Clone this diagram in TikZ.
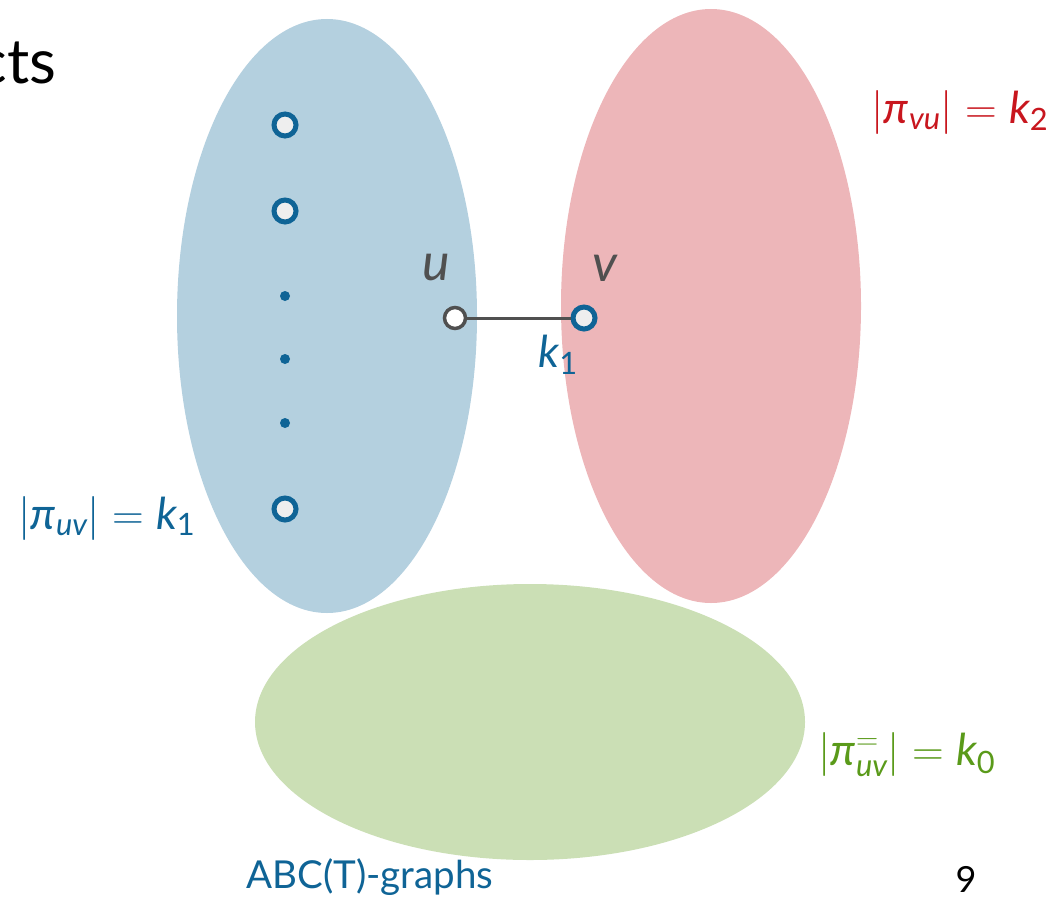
\RequirePackage{fix-cm}
\documentclass[tikz,border=0pt]{standalone}
\usepackage{amsmath}
\usepackage{fontspec}
\setmainfont{Lato}
\usetikzlibrary{positioning}
\definecolor{setblue}{HTML}{B4D0DF}
\definecolor{setred}{HTML}{EDB6B9}
\definecolor{setgreen}{HTML}{CBDFB5}
\definecolor{vblue}{HTML}{0F6496}
\definecolor{vred}{HTML}{C8161E}
\definecolor{vgreen}{HTML}{5A9A1A}
\definecolor{egrey}{HTML}{505050}
\definecolor{vfill}{HTML}{EEEEEE}
\tikzset{
  blue vertex/.style={circle, draw=vblue, line width=5pt, fill=vfill, minimum size=22pt, inner sep=0pt},
  grey vertex/.style={circle, draw=egrey, line width=3.5pt, fill=white, minimum size=21pt, inner sep=0pt},
  dot vertex/.style={circle, fill=vblue, inner sep=0pt, minimum size=10pt},
  path edge/.style={draw=egrey, line width=3pt},
}
\newcommand{\iv}[1]{\text{\itshape #1}}

\begin{document}
\begin{tikzpicture}[x=1pt, y=-1pt, every node/.style={font=\fontsize{44}{46}\selectfont}]
  \useasboundingbox (0,0) rectangle (1059,899);
  \fill[setblue]  (327,316) ellipse [x radius=150, y radius=297];
  \fill[setred]   (711,306) ellipse [x radius=150, y radius=297];
  \fill[setgreen] (530,722) ellipse [x radius=275, y radius=138];
  \node (title) [anchor=base east, font=\fontsize{62}{64}\selectfont] at (60,83) {cts};
  \node[blue vertex] (w1) at (285,125) {};
  \node[blue vertex] (w2) at (285,211) {};
  \node[dot vertex]  (d1) at (285,296) {};
  \node[dot vertex]  (d2) at (285,359) {};
  \node[dot vertex]  (d3) at (285,423) {};
  \node[blue vertex] (w3) at (285,509) {};
  \node[grey vertex] (u) at (455,318) {};
  \node[blue vertex] (v) at (584,318) {};
  \draw[path edge] (u) -- (v);
  \node (ulabel) [text=egrey, font=\fontsize{52}{54}\selectfont\itshape] at (436,268) {u};
  \node (vlabel) [text=egrey, font=\fontsize{52}{54}\selectfont\itshape] at (605,268) {v};
  \node (klabel) [text=vblue] at (558,355) {$\iv{k}_{\text{1}}$};
  \node (pivu) [text=vred]   at (960,112) {$|\iv{π}_{\iv{vu}}| = \iv{k}_{\text{2}}$};
  \node (piuv) [text=vblue]  at (107,518) {$|\iv{π}_{\iv{uv}}| = \iv{k}_{\text{1}}$};
  \node (pieq) [text=vgreen] at (907,755) {$|\iv{π}^{=}_{\iv{uv}}| = \iv{k}_{\text{0}}$};
  \node (footer) [text=vblue, font=\fontsize{38.5}{40}\selectfont, anchor=base] at (370,888) {ABC(T)-graphs};
  \node (page) [font=\fontsize{36}{38}\selectfont, anchor=base] at (966,892) {9};
\end{tikzpicture}
\end{document}
